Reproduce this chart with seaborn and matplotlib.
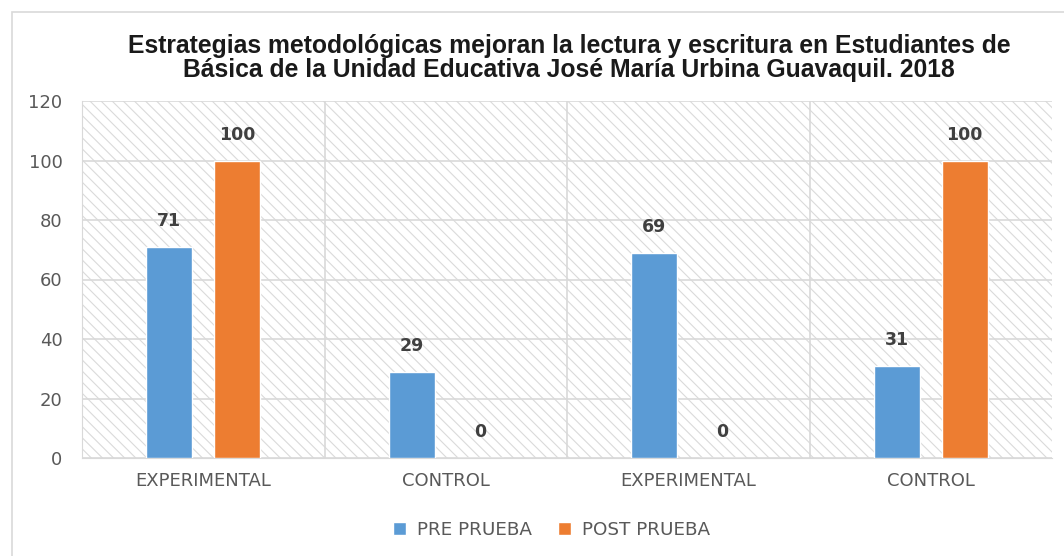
import pandas as pd
import numpy as np
import matplotlib.pyplot as plt
import seaborn as sns
from matplotlib.patches import Rectangle

# data
groups = ['EXPERIMENTAL', 'CONTROL', 'EXPERIMENTAL', 'CONTROL']
pre_prueba = [71, 29, 69, 31]
post_prueba = [100, 0, 0, 100]
series = ['PRE PRUEBA', 'POST PRUEBA']
colors = ['#5B9BD5', '#ED7D31']
title = ('Estrategias metodológicas mejoran la lectura y escritura en Estudiantes de\n'
         'Básica de la Unidad Educativa José María Urbina Guavaquil. 2018')

df = pd.DataFrame({
    'pos': list(range(len(groups))) * 2,
    'serie': [series[0]] * len(groups) + [series[1]] * len(groups),
    'valor': pre_prueba + post_prueba,
})

sns.set_style('white')
plt.rcParams['font.family'] = ['Liberation Sans', 'DejaVu Sans']
plt.rcParams['hatch.linewidth'] = 0.8

fig = plt.figure(figsize=(10.64, 5.56), dpi=100)
ax = fig.add_axes([82 / 1064, 1 - 458 / 556, (1052 - 82) / 1064, (458 - 101) / 556])

# outer frame of the chart
fig.patches.append(Rectangle((12 / 1064, -0.1), 1.2, (556 - 12) / 556 + 0.1,
                             transform=fig.transFigure, fill=False,
                             edgecolor='#d9d9d9', linewidth=1.2))

# hatched plot background
ax.add_patch(Rectangle((0, 0), 1, 1, transform=ax.transAxes, facecolor='white',
                       edgecolor='#dadada', linewidth=0, hatch='\\\\\\', zorder=0))

sns.barplot(data=df, x='pos', y='valor', hue='serie', palette=colors,
            width=0.56, gap=0.32, ax=ax, saturation=1, zorder=3)

for cont in ax.containers:
    ax.bar_label(cont, labels=[f'{v:.0f}' for v in cont.datavalues],
                 padding=12, fontsize=12.5, fontweight='bold', color='#404040',
                 family='DejaVu Sans')

ax.set_ylim(0, 120)
ax.set_xlim(-0.5, len(groups) - 0.5)
ax.set_yticks(np.arange(0, 121, 20))
ax.set_xticks(range(len(groups)))
ax.set_xticklabels(groups)
ax.set_xlabel('')
ax.set_ylabel('')
ax.tick_params(axis='both', length=0, labelsize=13, colors='#595959')
ax.tick_params(axis='y', pad=14)
ax.tick_params(axis='x', pad=10)
for lab in ax.get_xticklabels() + ax.get_yticklabels():
    lab.set_family('DejaVu Sans')

for y in np.arange(20, 121, 20):
    ax.axhline(y, color='#d9d9d9', linewidth=1.2, zorder=1)
ax.axhline(0, color='#d9d9d9', linewidth=1.2, zorder=1)
for x in np.arange(0.5, len(groups) - 1, 1):
    ax.axvline(x, color='#d9d9d9', linewidth=1.2, zorder=1)

for side in ['top', 'right']:
    ax.spines[side].set_visible(False)
ax.spines['left'].set_color('#d9d9d9')
ax.spines['bottom'].set_color('#d9d9d9')

ax.legend(loc='upper center', bbox_to_anchor=(0.484, -0.13), ncol=2, frameon=False,
          handlelength=0.7, handleheight=0.7, handletextpad=0.6, columnspacing=1.4,
          prop={'family': 'DejaVu Sans', 'size': 13.2},
          labelcolor='#595959')

fig.text(0.535, 1 - 58 / 556, title, ha='center', va='center', fontsize=17.8,
         fontweight='bold', color='#1a1a1a', linespacing=1.02)

fig.savefig('out.png', dpi=100)
